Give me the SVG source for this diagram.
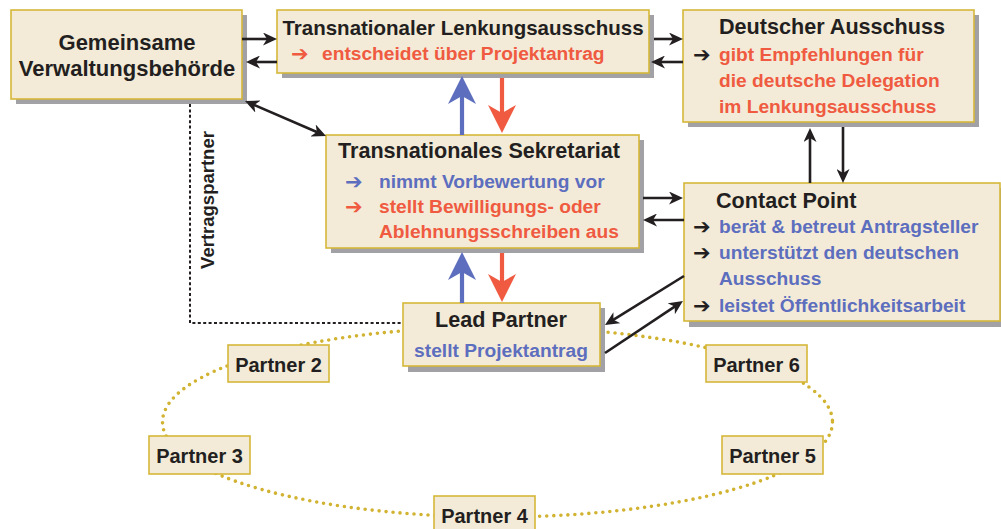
<svg xmlns="http://www.w3.org/2000/svg" width="1001" height="529" viewBox="0 0 1001 529">
<style>
.box{fill:#F3EBD8;stroke:#D5B739;stroke-width:1.6}
.sh{fill:#A2A2A6}
.t{font-family:"Liberation Sans",Arial,sans-serif;font-weight:bold;fill:#231F20}
.ti{font-size:21.6px}
.b{font-size:19.2px}
.red{fill:#EF5A40}
.blue{fill:#5D6EBE}
.ar{font-family:"DejaVu Sans",sans-serif;font-weight:bold;font-size:21px}
.k{stroke:#231F20;stroke-width:2.6;fill:none}
.cb{stroke:#5D6EBE;stroke-width:4.2;fill:none}
.cr{stroke:#EF5A40;stroke-width:4.2;fill:none}
</style>
<defs>
<marker id="mk" viewBox="0 0 14 13" refX="9" refY="6.5" markerWidth="14" markerHeight="13" markerUnits="userSpaceOnUse" orient="auto-start-reverse"><path d="M0,0 L14,6.5 L0,13 L4,6.5 z" fill="#231F20"/></marker>
<marker id="mb" viewBox="0 0 28 28" refX="18" refY="14" markerWidth="28" markerHeight="28" markerUnits="userSpaceOnUse" orient="auto"><path d="M0,0 L28,14 L0,28 L8,14 z" fill="#5D6EBE"/></marker>
<marker id="mr" viewBox="0 0 28 28" refX="18" refY="14" markerWidth="28" markerHeight="28" markerUnits="userSpaceOnUse" orient="auto"><path d="M0,0 L28,14 L0,28 L8,14 z" fill="#EF5A40"/></marker>
</defs>
<rect width="1001" height="529" fill="#FFFFFF"/>

<g id="partner-ring">
<ellipse cx="497.5" cy="422" rx="335" ry="95" fill="none" stroke="#D2B331" stroke-width="3.6" stroke-linecap="round" stroke-dasharray="0 7"/>
</g>

<g id="gemeinsame">
<rect class="sh" x="16" y="15" width="231" height="89"/>
<rect class="box" x="11" y="10" width="231" height="89"/>
<text class="t" x="127" y="50" text-anchor="middle" font-size="22">Gemeinsame</text>
<text class="t" x="127" y="76" text-anchor="middle" font-size="22">Verwaltungsbehörde</text>
</g>

<g id="lenkungsausschuss">
<rect class="sh" x="282" y="15" width="372" height="63"/>
<rect class="box" x="277" y="10" width="372" height="63"/>
<text class="t" x="463" y="35" text-anchor="middle" font-size="20.5">Transnationaler Lenkungsausschuss</text>
<text class="ar red" x="291" y="61">➔</text>
<text class="t b red" x="322" y="60">entscheidet über Projektantrag</text>
</g>

<g id="deutscher-ausschuss">
<rect class="sh" x="688" y="15" width="291" height="112"/>
<rect class="box" x="683" y="10" width="291" height="112"/>
<text class="t ti" x="719" y="34">Deutscher Ausschuss</text>
<text class="ar" x="693" y="62" fill="#231F20">➔</text>
<text class="t b red" x="719" y="61">gibt Empfehlungen für</text>
<text class="t b red" x="719" y="87">die deutsche Delegation</text>
<text class="t b red" x="719" y="113">im Lenkungsausschuss</text>
</g>

<g id="sekretariat">
<rect class="sh" x="331" y="140" width="313" height="113"/>
<rect class="box" x="326" y="135" width="313" height="113"/>
<text class="t ti" x="338" y="158">Transnationales Sekretariat</text>
<text class="ar blue" x="345" y="189">➔</text>
<text class="t b blue" x="379" y="188">nimmt Vorbewertung vor</text>
<text class="ar red" x="345" y="214">➔</text>
<text class="t b red" x="379" y="213">stellt Bewilligungs- oder</text>
<text class="t b red" x="379" y="238">Ablehnungsschreiben aus</text>
</g>

<g id="contact-point">
<rect class="sh" x="689" y="188" width="316" height="139"/>
<rect class="box" x="684" y="183" width="316" height="138"/>
<text class="t ti" x="716" y="208">Contact Point</text>
<text class="ar" x="693" y="234" fill="#231F20">➔</text>
<text class="t b blue" x="719" y="233">berät &amp; betreut Antragsteller</text>
<text class="ar" x="693" y="260" fill="#231F20">➔</text>
<text class="t b blue" x="719" y="259">unterstützt den deutschen</text>
<text class="t b blue" x="719" y="285">Ausschuss</text>
<text class="ar" x="693" y="313" fill="#231F20">➔</text>
<text class="t b blue" x="719" y="312">leistet Öffentlichkeitsarbeit</text>
</g>

<g id="lead-partner">
<rect class="sh" x="408" y="308" width="197" height="64"/>
<rect class="box" x="403" y="303" width="197" height="63"/>
<text class="t ti" x="501" y="327" text-anchor="middle">Lead Partner</text>
<text class="t b blue" x="501" y="357" text-anchor="middle">stellt Projektantrag</text>
</g>

<g id="partner-2">
<rect class="box" x="228" y="345" width="101" height="37"/>
<text class="t" x="278.5" y="372" text-anchor="middle" font-size="20">Partner 2</text>
</g>
<g id="partner-3">
<rect class="box" x="149" y="436" width="101" height="38"/>
<text class="t" x="199.5" y="463" text-anchor="middle" font-size="20">Partner 3</text>
</g>
<g id="partner-4">
<rect class="box" x="434" y="496" width="101" height="38"/>
<text class="t" x="484.5" y="523" text-anchor="middle" font-size="20">Partner 4</text>
</g>
<g id="partner-5">
<rect class="box" x="722" y="436" width="101" height="38"/>
<text class="t" x="772.5" y="463" text-anchor="middle" font-size="20">Partner 5</text>
</g>
<g id="partner-6">
<rect class="box" x="706" y="345" width="101" height="37"/>
<text class="t" x="756.5" y="372" text-anchor="middle" font-size="20">Partner 6</text>
</g>

<g id="connectors">
<path d="M190,104 V323 H403" fill="none" stroke="#231F20" stroke-width="2" stroke-dasharray="3 2.4"/>
<text class="t" transform="translate(214,200) rotate(-90)" text-anchor="middle" font-size="18.5">Vertragspartner</text>

<line class="k" x1="242" y1="39" x2="272" y2="39" marker-end="url(#mk)"/>
<line class="k" x1="277" y1="62" x2="251" y2="62" marker-end="url(#mk)"/>
<line class="k" x1="654" y1="39" x2="678" y2="39" marker-end="url(#mk)"/>
<line class="k" x1="683" y1="62" x2="656" y2="62" marker-end="url(#mk)"/>
<line class="k" x1="249.6" y1="103" x2="321.4" y2="134" marker-start="url(#mk)" marker-end="url(#mk)"/>
<line class="k" x1="810" y1="183" x2="810" y2="133" marker-end="url(#mk)"/>
<line class="k" x1="843" y1="127" x2="843" y2="178" marker-end="url(#mk)"/>
<line class="k" x1="643" y1="198" x2="678" y2="198" marker-end="url(#mk)"/>
<line class="k" x1="684" y1="220" x2="648" y2="220" marker-end="url(#mk)"/>
<line class="k" x1="684" y1="276" x2="609.2" y2="322.4" marker-end="url(#mk)"/>
<line class="k" x1="605" y1="353" x2="678.8" y2="303.8" marker-end="url(#mk)"/>

<line class="cb" x1="462" y1="135" x2="462" y2="86" marker-end="url(#mb)"/>
<line class="cr" x1="502" y1="78" x2="502" y2="123" marker-end="url(#mr)"/>
<line class="cb" x1="462" y1="303" x2="462" y2="262" marker-end="url(#mb)"/>
<line class="cr" x1="502" y1="253" x2="502" y2="292" marker-end="url(#mr)"/>
</g>
</svg>
